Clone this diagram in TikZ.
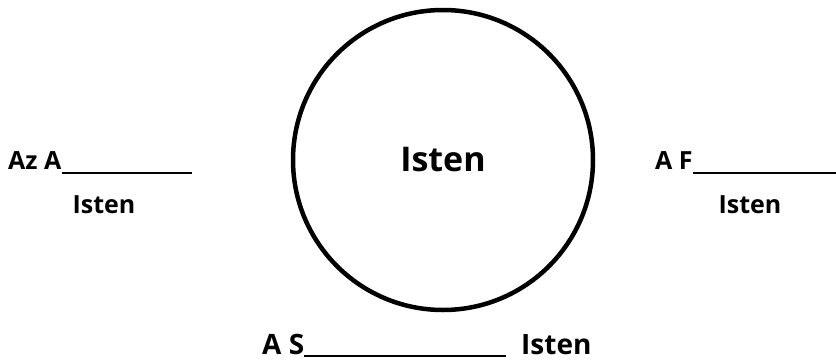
\documentclass[tikz,border=0pt]{standalone}
\usepackage{fontspec}
\setmainfont{Open Sans}
\usetikzlibrary{positioning}

\begin{document}
\begin{tikzpicture}[
  x=1pt, y=-1pt,
  word/.style={inner sep=0pt, font=\fontsize{25}{27}\selectfont\bfseries},
  bigword/.style={inner sep=0pt, font=\fontsize{28}{30}\selectfont\bfseries},
  ring/.style={circle, draw=black, line width=4.5pt, minimum size=300pt, inner sep=0pt,
    font=\fontsize{34}{37}\selectfont\bfseries},
  blank/.style={draw=black, line width=1.3pt}
]
\useasboundingbox (0,0) rectangle (836,362);

% The centre ring.
\node[ring] (god) at (443,160) {Isten};

% Left blank.
\node[word, anchor=base west] (az) at (8,169) {Az A};
\coordinate (azend) at (192,173);
\draw[blank] ([yshift=-4pt]az.base east) -- (azend);
\node[word, anchor=base] (azgod) at (104,213) {Isten};

% Right blank.
\node[word, anchor=base west] (af) at (655,169) {A F};
\coordinate (afend) at (836,173);
\draw[blank] ([yshift=-4pt]af.base east) -- (afend);
\node[word, anchor=base] (afgod) at (750,213) {Isten};

% Bottom blank.
\node[bigword, anchor=base west] (as) at (262,354) {A S};
\coordinate (asend) at (506,356);
\draw[blank] ([yshift=-2pt]as.base east) -- (asend);
\node[bigword, anchor=base west] (asgod) at (521,354) {Isten};

\end{tikzpicture}
\end{document}
